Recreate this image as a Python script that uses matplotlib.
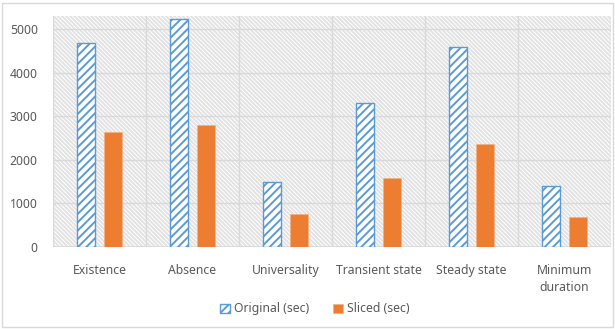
import matplotlib
matplotlib.use('Agg')
import matplotlib.pyplot as plt
from matplotlib.patches import Rectangle
import numpy as np

# --- Data ---
categories = ['Existence', 'Absence', 'Universality', 'Transient state',
              'Steady state', 'Minimum\nduration']
original_sec = [4680, 5230, 1500, 3300, 4600, 1400]
sliced_sec = [2640, 2790, 760, 1580, 2370, 680]
y_ticks = [0, 1000, 2000, 3000, 4000, 5000]

blue = '#5B9BD5'
orange = '#ED7D31'
text_gray = '#595959'
grid_gray = '#d9d9d9'

plt.rcParams['font.family'] = ['Noto Sans', 'DejaVu Sans']
plt.rcParams['hatch.linewidth'] = 1.4

fig = plt.figure(figsize=(6.15, 3.29), dpi=100)
ax = fig.add_axes([0.0862, 0.2492, 0.9073, 0.7022])

# outer chart frame
fig.patches.append(Rectangle((0.003, 0.006), 0.994, 0.985, transform=fig.transFigure,
                             fill=False, edgecolor=grid_gray, linewidth=1.0))

n = len(categories)
x = np.arange(n)
ax.set_xlim(-0.5, n - 0.5)
ax.set_ylim(0, 5300)

# fine diagonal texture in the plot area
bg = Rectangle((-0.5, 0), n, 5300, facecolor='white', edgecolor='#e2e2e2',
               hatch='\\\\\\\\\\\\\\\\', linewidth=0, zorder=0)
ax.add_patch(bg)

# gridlines
for yv in y_ticks[1:]:
    ax.axhline(yv, color=grid_gray, linewidth=1.0, zorder=1)
for xv in np.arange(-0.5, n, 1.0):
    ax.axvline(xv, color=grid_gray, linewidth=1.0, zorder=1)

w = 0.2
off = 0.145
ax.bar(x - off, original_sec, width=w, facecolor='white', edgecolor=blue,
       hatch='////', linewidth=1.0, zorder=3, label='Original (sec)')
ax.bar(x + off, sliced_sec, width=w, color=orange, edgecolor='#f4b183',
       linewidth=0.5, zorder=3, label='Sliced (sec)')

for s in ax.spines.values():
    s.set_visible(False)
ax.axhline(0, color=grid_gray, linewidth=1.2, zorder=2)

ax.set_yticks(y_ticks)
ax.set_yticklabels([str(v) for v in y_ticks])
ax.set_xticks(x)
ax.set_xticklabels(categories, linespacing=1.45)
ax.tick_params(axis='both', length=0, labelsize=8.8, colors=text_gray)
ax.tick_params(axis='x', pad=12)
ax.tick_params(axis='y', pad=11)

leg = fig.legend(loc='center', bbox_to_anchor=(0.512, 0.061), ncol=2, frameon=False,
                 fontsize=8.8, handlelength=0.8, handleheight=0.8, handletextpad=0.3,
                 columnspacing=2.0)
for t in leg.get_texts():
    t.set_color(text_gray)

fig.savefig('out.png', dpi=100)
